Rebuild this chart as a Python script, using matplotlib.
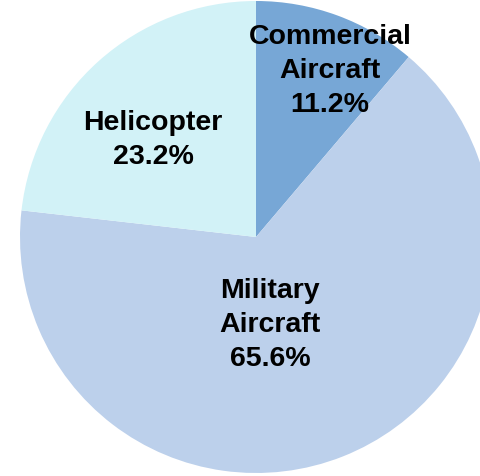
import matplotlib
matplotlib.use('Agg')
import matplotlib.pyplot as plt
from matplotlib.font_manager import FontProperties

# segment shares (%)
categories = ['Commercial\nAircraft', 'Military\nAircraft', 'Helicopter']
shares = [11.2, 65.6, 23.2]
colors = ['#77a7d6', '#bcd0eb', '#d2f2f7']

fig = plt.figure(figsize=(4.81, 4.76), dpi=100)
ax = fig.add_axes([0, 0, 1, 1])

wedges, _ = ax.pie(shares, colors=colors, startangle=90, counterclock=False,
                   center=(256, 239), radius=236, frame=True)
ax.set_xlim(0, 481)
ax.set_ylim(0, 476)
ax.set_aspect('equal')
ax.axis('off')

fp = FontProperties(family='Liberation Sans', weight='bold', stretch='normal', size=20.5)
label_pos = [(330, 405), (270, 151), (153, 336)]
for name, val, (x, y) in zip(categories, shares, label_pos):
    ax.text(x, y, name + '\n' + f'{val:.1f}%', ha='center', va='center',
            fontproperties=fp, linespacing=1.4, color='black')

plt.savefig('out.png', dpi=100)
